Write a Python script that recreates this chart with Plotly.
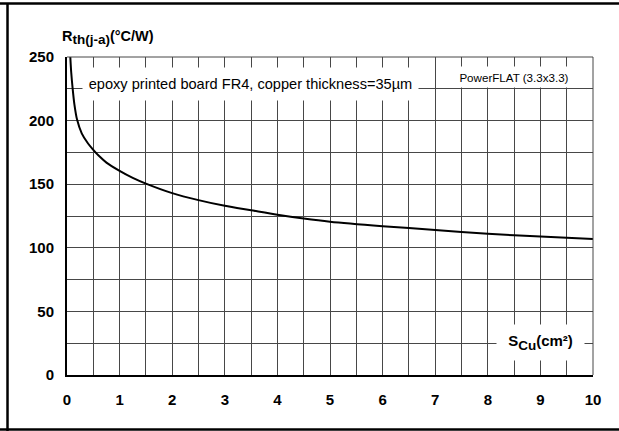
import plotly.graph_objects as go

# Data
s_cu = [0.063, 0.08, 0.108, 0.14, 0.19, 0.28, 0.4, 0.5, 0.6, 0.75, 1.0, 1.25, 1.5, 2.0,
        2.5, 3.0, 3.5, 4.0, 4.5, 5.0, 6.0, 7.0, 8.0, 9.0, 10.0]
rth = [250, 238, 225, 213, 201, 190, 182, 177, 172.5, 167, 160.5, 155, 150.5, 143,
       137.5, 133, 129.5, 126, 123, 120.5, 117, 114, 111, 108.8, 106.9]
x_ticks = [0, 1, 2, 3, 4, 5, 6, 7, 8, 9, 10]
y_ticks = [0, 50, 100, 150, 200, 250]

FONT = "Arial, Liberation Sans, Helvetica, sans-serif"
GRID = "#474747"

fig = go.Figure()
fig.add_trace(go.Scatter(x=s_cu, y=rth, mode="lines",
                         line=dict(color="black", width=2, shape="spline", smoothing=0.8),
                         hoverinfo="skip", showlegend=False))

fig.update_layout(
    width=619, height=431,
    margin=dict(l=67, r=26, t=57, b=56),
    paper_bgcolor="white", plot_bgcolor="white",
    font=dict(family=FONT, color="black"),
    showlegend=False,
)
fig.update_xaxes(
    range=[0, 10], tickvals=x_ticks, ticktext=[f"<b>{v}</b>" for v in x_ticks],
    showgrid=True, gridcolor=GRID, gridwidth=1,
    minor=dict(dtick=0.5, showgrid=True, gridcolor=GRID, gridwidth=1),
    showline=True, linecolor="black", linewidth=2,
    ticks="outside", ticklen=10, tickcolor="rgba(0,0,0,0)",
    tickfont=dict(size=15, family=FONT), zeroline=False, fixedrange=True,
)
fig.update_yaxes(
    range=[0, 250], tickvals=y_ticks, ticktext=[f"<b>{v}</b>" for v in y_ticks],
    showgrid=True, gridcolor=GRID, gridwidth=1,
    minor=dict(dtick=25, showgrid=True, gridcolor=GRID, gridwidth=1),
    showline=True, linecolor="black", linewidth=2,
    ticks="outside", ticklen=8, tickcolor="rgba(0,0,0,0)",
    tickfont=dict(size=15, family=FONT), zeroline=False, fixedrange=True,
)

# top / right plot borders (gray) and the outer frame (black)
shapes = [
    dict(type="line", xref="paper", yref="paper", x0=0, x1=1, y0=1, y1=1, line=dict(color=GRID, width=1)),
    dict(type="line", xref="paper", yref="paper", x0=1, x1=1, y0=0, y1=1, line=dict(color=GRID, width=1)),
    dict(type="line", xref="paper", yref="paper", x0=-0.1274, x1=1.06, y0=1.1682, y1=1.1682,
         line=dict(color="black", width=2.5)),
    dict(type="line", xref="paper", yref="paper", x0=-0.1131, x1=-0.1131, y0=-0.18, y1=1.1682,
         line=dict(color="black", width=2.5)),
    dict(type="line", xref="paper", yref="paper", x0=-0.1274, x1=1.06, y0=-0.1714, y1=-0.1714,
         line=dict(color="black", width=2.5)),
]
fig.update_layout(shapes=shapes)

annotations = [
    dict(text="<b>R<sub><span style='font-size:13.5px'>th(j-a)</span></sub>(°C/W)</b>",
         xref="paper", yref="paper", x=-0.0133, y=1.025,
         xanchor="left", yanchor="bottom", showarrow=False, font=dict(size=14.5, family=FONT)),
    dict(text="epoxy printed board FR4, copper thickness=35µm", xref="x", yref="y", x=3.49, y=228.8,
         xanchor="center", yanchor="middle", showarrow=False, bgcolor="white", borderpad=0,
         width=335, height=32, font=dict(size=14.6, family=FONT)),
    dict(text="PowerFLAT (3.3x3.3)", xref="x", yref="y", x=8.49, y=234.3,
         xanchor="center", yanchor="middle", showarrow=False, bgcolor="white", borderpad=0,
         width=140, height=20, font=dict(size=11.6, family=FONT)),
    dict(text="<b>S<sub><span style='font-size:13.5px'>Cu</span></sub>(cm²)</b>", xref="x", yref="y",
         x=9.0, y=25.5,
         xanchor="center", yanchor="middle", showarrow=False, bgcolor="white", borderpad=0,
         width=87, height=35, font=dict(size=15, family=FONT)),
]
fig.update_layout(annotations=annotations)

fig.write_html("out.html", config={"displayModeBar": False},
               post_script="document.body.style.margin='0';document.body.style.padding='0';")
